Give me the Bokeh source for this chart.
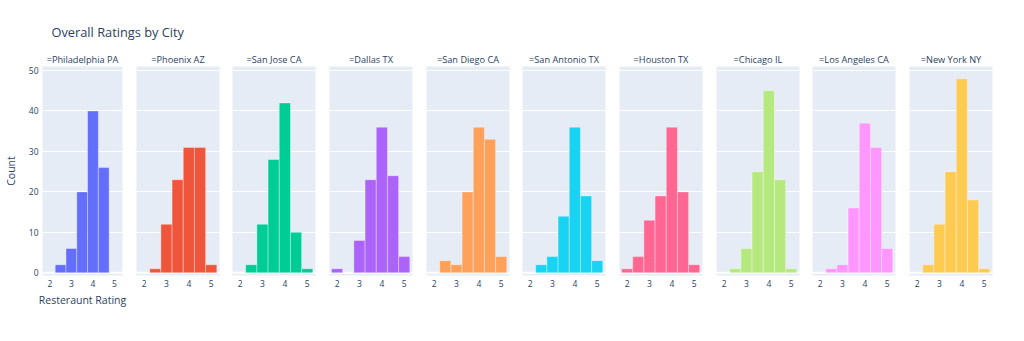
from bokeh.plotting import figure
from bokeh.layouts import column, row
from bokeh.models import Range1d, FixedTicker, Span
from bokeh.core.properties import value
from bokeh.embed import file_html
from bokeh.resources import INLINE

# ---------------- data ----------------
cities = ["Philadelphia PA", "Phoenix AZ", "San Jose CA", "Dallas TX", "San Diego CA",
          "San Antonio TX", "Houston TX", "Chicago IL", "Los Angeles CA", "New York NY"]
bin_centers = [2.0, 2.5, 3.0, 3.5, 4.0, 4.5, 5.0]
bin_width = 0.5
philadelphia = [0, 2, 6, 20, 40, 26, 0]
phoenix = [0, 1, 12, 23, 31, 31, 2]
san_jose = [0, 2, 12, 28, 42, 10, 1]
dallas = [1, 0, 8, 23, 36, 24, 4]
san_diego = [0, 3, 2, 20, 36, 33, 4]
san_antonio = [0, 2, 4, 14, 36, 19, 3]
houston = [1, 4, 13, 19, 36, 20, 2]
chicago = [0, 1, 6, 25, 45, 23, 1]
los_angeles = [0, 1, 2, 16, 37, 31, 6]
new_york = [0, 2, 12, 25, 48, 18, 1]
counts = [philadelphia, phoenix, san_jose, dallas, san_diego,
          san_antonio, houston, chicago, los_angeles, new_york]
colors = ["#636EFA", "#EF553B", "#00CC96", "#AB63FA", "#FFA15A",
          "#19D3F3", "#FF6692", "#B6E880", "#FF97FF", "#FECB52"]
x_ticks = [2, 3, 4, 5]
y_ticks = [0, 10, 20, 30, 40, 50]
title_text = "Overall Ratings by City"
x_title = "Resteraunt Rating"
y_title = "Count"

# ---------------- layout ----------------
FONT = "Open Sans"
TXT = "#2a3f5f"
W, H = 1024, 341
TITLE_H = 46
FRAME_W, FRAME_H = 83, 209
FRAME_TOP = 66 - TITLE_H
PANEL_H = H - TITLE_H
frame_lefts = [39, 136, 232, 329, 426, 522, 619, 716, 812, 909]
bounds = [0] + [l - 7 for l in frame_lefts[1:]] + [W]

tfig = figure(width=W, height=TITLE_H, x_range=Range1d(0, W), y_range=Range1d(0, TITLE_H),
              x_axis_type=None, y_axis_type=None, toolbar_location=None, title=None,
              output_backend="svg", min_border=0, outline_line_color=None)
tfig.grid.visible = False
tfig.text(x=[51], y=[TITLE_H - 31], text=[title_text], text_font=value(FONT),
          text_font_size="12.8px", text_color=TXT, text_baseline="middle",
          text_align="left")

figs = []
for i, (city, cnt, col) in enumerate(zip(cities, counts, colors)):
    left_b = frame_lefts[i] - bounds[i]
    right_b = bounds[i + 1] - frame_lefts[i] - FRAME_W
    p = figure(width=left_b + FRAME_W + right_b, height=PANEL_H,
               x_range=Range1d(1.66, 5.37), y_range=Range1d(-0.67, 51.0),
               toolbar_location=None, output_backend="svg",
               min_border_left=left_b, min_border_right=right_b,
               min_border_top=FRAME_TOP, min_border_bottom=PANEL_H - FRAME_TOP - FRAME_H,
               background_fill_color="#E5ECF6", border_fill_color="white",
               outline_line_color=None)
    p.title.text = "=" + city
    p.title.align = "center"
    p.title.text_font = FONT
    p.title.text_font_size = "9.2px"
    p.title.text_font_style = "normal"
    p.title.text_color = TXT
    p.title.standoff = 1

    xs = [c for c, n in zip(bin_centers, cnt) if n > 0]
    ns = [n for n in cnt if n > 0]
    p.add_layout(Span(location=0, dimension="width", line_color="white",
                      line_width=2, level="underlay"))
    p.vbar(x=xs, top=ns, bottom=0, width=bin_width, fill_color=col,
           line_color="white", line_width=0.7, line_alpha=0.5)

    p.xgrid.visible = False
    p.ygrid.ticker = FixedTicker(ticks=y_ticks)
    p.ygrid.grid_line_color = "white"
    p.ygrid.grid_line_width = 1

    ax = p.xaxis[0]
    ax.ticker = FixedTicker(ticks=x_ticks)
    ax.axis_line_color = None
    ax.major_tick_line_color = None
    ax.minor_tick_line_color = None
    ax.major_tick_out = 0
    ax.major_tick_in = 0
    ax.minor_tick_out = 0
    ax.major_label_standoff = 4
    ax.major_label_text_font = FONT
    ax.major_label_text_font_size = "8.5px"
    ax.major_label_text_color = TXT

    ay = p.yaxis[0]
    if i == 0:
        ay.ticker = FixedTicker(ticks=y_ticks)
        ay.axis_line_color = None
        ay.major_tick_line_color = None
        ay.minor_tick_line_color = None
        ay.major_tick_out = 0
        ay.major_tick_in = 0
        ay.minor_tick_out = 0
        ay.major_label_standoff = 4
        ay.major_label_text_font = FONT
        ay.major_label_text_font_size = "8.5px"
        ay.major_label_text_color = TXT
        ay.axis_label = y_title
        ay.axis_label_text_font = FONT
        ay.axis_label_text_font_size = "10.5px"
        ay.axis_label_text_font_style = "normal"
        ay.axis_label_text_color = TXT
        ay.axis_label_standoff = 8
        ax.axis_label = x_title
        ax.axis_label_text_font = FONT
        ax.axis_label_text_font_size = "10.5px"
        ax.axis_label_text_font_style = "normal"
        ax.axis_label_text_color = TXT
        ax.axis_label_standoff = 3
    else:
        ay.visible = False
    figs.append(p)

layout = column(tfig, row(*figs, spacing=0), spacing=0)
open("out.html", "w").write(file_html(layout, INLINE))
